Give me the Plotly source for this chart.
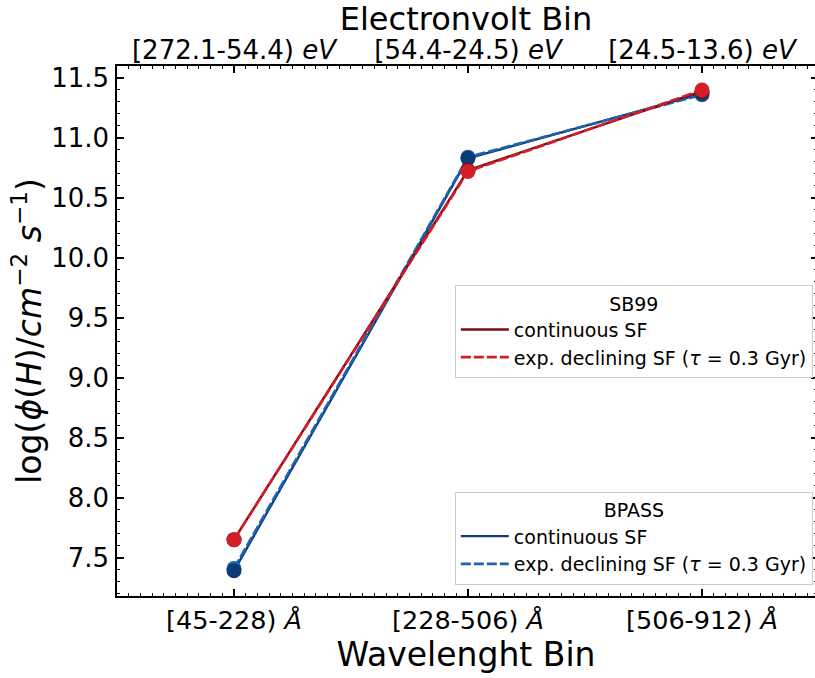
import plotly.graph_objects as go

x_pos = [0, 1, 2]
wave_labels = ["[45-228) <i>Å</i>", "[228-506) <i>Å</i>", "[506-912) <i>Å</i>"]
ev_labels = ["[272.1-54.4) <i>eV</i>", "[54.4-24.5) <i>eV</i>", "[24.5-13.6) <i>eV</i>"]
y_ticks = [7.5, 8.0, 8.5, 9.0, 9.5, 10.0, 10.5, 11.0, 11.5]
y_ticktext = ["7.5", "8.0", "8.5", "9.0", "9.5", "10.0", "10.5", "11.0", "11.5"]

sb99_cont = [7.65, 10.73, 11.39]
sb99_exp = [7.65, 10.72, 11.40]
bpass_cont = [7.39, 10.83, 11.37]
bpass_exp = [7.41, 10.84, 11.36]

FONT = "DejaVu Sans"
C_DARKRED = "#800a10"
C_RED = "#d21f27"
C_NAVY = "#0d3b7a"
C_BLUE = "#1f62b0"

fig = go.Figure()

# BPASS lines
fig.add_trace(go.Scatter(x=x_pos, y=bpass_cont, mode="lines", line=dict(color=C_NAVY, width=2.4),
                         name="continuous SF", legend="legend2", legendgroup="b1"))
fig.add_trace(go.Scatter(x=x_pos, y=bpass_exp, mode="lines", line=dict(color=C_BLUE, width=2.6, dash="10px,3px"),
                         name="exp. declining SF (<i>τ</i> = 0.3 Gyr)", legend="legend2", legendgroup="b2"))
# SB99 lines
fig.add_trace(go.Scatter(x=x_pos, y=sb99_cont, mode="lines", line=dict(color=C_DARKRED, width=2.4),
                         name="continuous SF", legend="legend", legendgroup="s1"))
fig.add_trace(go.Scatter(x=x_pos, y=sb99_exp, mode="lines", line=dict(color=C_RED, width=2.6, dash="10px,3px"),
                         name="exp. declining SF (<i>τ</i> = 0.3 Gyr)", legend="legend", legendgroup="s2"))
# markers
fig.add_trace(go.Scatter(x=x_pos, y=bpass_exp, mode="markers", marker=dict(color=C_BLUE, size=15),
                         showlegend=False, hoverinfo="skip"))
fig.add_trace(go.Scatter(x=x_pos, y=bpass_cont, mode="markers", marker=dict(color=C_NAVY, size=15),
                         showlegend=False, hoverinfo="skip"))
fig.add_trace(go.Scatter(x=x_pos, y=sb99_cont, mode="markers", marker=dict(color=C_DARKRED, size=15),
                         showlegend=False, hoverinfo="skip"))
fig.add_trace(go.Scatter(x=x_pos, y=sb99_exp, mode="markers", marker=dict(color=C_RED, size=15),
                         showlegend=False, hoverinfo="skip"))
# helper traces for secondary axes
fig.add_trace(go.Scatter(x=[None], y=[None], xaxis="x2", yaxis="y", showlegend=False, hoverinfo="skip"))
fig.add_trace(go.Scatter(x=[None], y=[None], xaxis="x", yaxis="y2", showlegend=False, hoverinfo="skip"))

XR = [-0.5, 2.483]
YR = [7.18, 11.60]

common_axis = dict(showgrid=False, zeroline=False, showline=True, linecolor="black", linewidth=1.5,
                   ticks="inside", ticklen=7, tickwidth=1.5, tickcolor="black")
minor_x = dict(ticks="inside", ticklen=3.5, tickwidth=1, tickcolor="black", dtick=0.05, tick0=0)
minor_y = dict(ticks="inside", ticklen=3.5, tickwidth=1, tickcolor="black", dtick=0.1, tick0=7.0)

legend_common = dict(xanchor="left", yanchor="top", bgcolor="rgba(255,255,255,0.8)",
                     bordercolor="#cccccc", borderwidth=1, font=dict(size=19, family=FONT),
                     itemwidth=48, tracegroupgap=0, traceorder="grouped")

fig.update_layout(
    width=815, height=678,
    margin=dict(l=117, r=0, t=63, b=82),
    paper_bgcolor="white", plot_bgcolor="white",
    font=dict(family=FONT, color="black"),
    xaxis=dict(**common_axis, range=XR, tickmode="array", tickvals=x_pos, ticktext=wave_labels,
               tickfont=dict(size=25.5), ticklabelstandoff=1, minor=minor_x,
               title=dict(text="Wavelenght Bin", font=dict(size=33), standoff=0)),
    xaxis2=dict(**common_axis, range=XR, overlaying="x", side="top", anchor="y", tickmode="array",
                tickvals=x_pos, ticktext=ev_labels, tickfont=dict(size=26), ticklabelstandoff=-5,
                minor=minor_x,
                title=dict(text="Electronvolt Bin", font=dict(size=32), standoff=12)),
    yaxis=dict(**common_axis, range=YR, tickmode="array", tickvals=y_ticks, ticktext=y_ticktext,
               tickfont=dict(size=26), ticklabelstandoff=1, minor=minor_y,
               title=dict(text="log(<i>ϕ</i>(<i>H</i>)/<i>cm</i><sup>−2</sup> <i>s</i><sup>−1</sup>)",
                          font=dict(size=33), standoff=0)),
    yaxis2=dict(showgrid=False, zeroline=False, showline=False, range=YR, overlaying="y", side="right",
                anchor="x", ticks="inside", ticklen=4, tickwidth=1.5, tickcolor="black",
                tickvals=y_ticks, showticklabels=False,
                minor=dict(ticks="inside", ticklen=1.5, tickwidth=1, tickcolor="black", dtick=0.1, tick0=7.0)),
    legend=dict(**legend_common, x=0.484, y=0.587,
                title=dict(text="SB99", side="top center", font=dict(size=19))),
    legend2=dict(**legend_common, x=0.484, y=0.197,
                 title=dict(text="BPASS", side="top center", font=dict(size=19))),
    showlegend=True,
)

fig.write_html("out.html")
